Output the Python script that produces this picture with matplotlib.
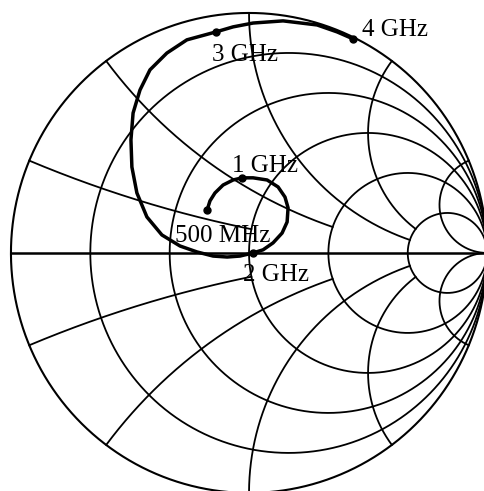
import numpy as np
import matplotlib
matplotlib.use('Agg')
import matplotlib.pyplot as plt

# measured reflection coefficient trace (real / imaginary part of gamma)
gamma_re = [-0.176, -0.164, -0.143, -0.109, -0.067, -0.029, 0.017, 0.076, 0.122, 0.151,
            0.164, 0.160, 0.139, 0.101, 0.059, 0.017, -0.038, -0.092, -0.151, -0.218,
            -0.290, -0.366, -0.429, -0.471, -0.492, -0.496, -0.487, -0.458, -0.416, -0.345,
            -0.261, -0.139, -0.067, 0.017, 0.143, 0.286, 0.370, 0.437]
gamma_im = [0.179, 0.217, 0.250, 0.283, 0.304, 0.313, 0.313, 0.304, 0.275, 0.233,
            0.188, 0.129, 0.083, 0.042, 0.013, 0.000, -0.013, -0.017, -0.013, 0.004,
            0.029, 0.075, 0.150, 0.250, 0.358, 0.471, 0.583, 0.679, 0.763, 0.833,
            0.888, 0.921, 0.942, 0.958, 0.967, 0.950, 0.921, 0.892]

# frequency markers on the trace
marker_labels = ['500 MHz', '1 GHz', '2 GHz', '3 GHz', '4 GHz']
marker_re = [-0.176, -0.029, 0.017, -0.139, 0.437]
marker_im = [0.179, 0.313, 0.000, 0.921, 0.892]
label_re = [-0.311, -0.071, -0.025, -0.155, 0.475]
label_im = [0.046, 0.338, -0.117, 0.800, 0.904]

# smith chart grid: resistance circles and reactance arcs
r_values = [0.2, 0.5, 1, 2, 5]
x_values = [0.2, 0.5, 1, 2, 5]
x_stop_r = [1, 2, 5, 5, 1e6]   # each reactance arc ends on this resistance circle


def to_gamma(z):
    return (z - 1) / (z + 1)


fig = plt.figure(figsize=(4.84, 4.91), dpi=100)
ax = fig.add_axes([0, 0, 1, 1])
ax.set_xlim(-1.046, 0.987)
ax.set_ylim(-0.992, 1.054)
ax.axis('off')

t = np.linspace(0, 2 * np.pi, 600)
ax.plot(np.cos(t), np.sin(t), color='black', lw=1.5)
ax.plot([-1, 1], [0, 0], color='black', lw=1.8)

# resistance circles
xs = np.tan(np.linspace(-np.pi / 2 + 1e-4, np.pi / 2 - 1e-4, 2000))
for r in r_values:
    g = to_gamma(r + 1j * xs)
    ax.plot(g.real, g.imag, color='black', lw=1.3)

# reactance arcs
for x, rs in zip(x_values, x_stop_r):
    rr = np.tan(np.linspace(0, np.arctan(rs), 1500))
    for sgn in (1, -1):
        g = to_gamma(rr + 1j * sgn * x)
        ax.plot(g.real, g.imag, color='black', lw=1.3)

# measured trace
ax.plot(gamma_re, gamma_im, color='black', lw=2.5, solid_capstyle='round',
        solid_joinstyle='round')
ax.plot(marker_re, marker_im, 'o', color='black', ms=5)

for lab, lx, ly in zip(marker_labels, label_re, label_im):
    ax.text(lx, ly, lab, fontsize=18, family='Liberation Serif',
            ha='left', va='baseline', color='black')

fig.savefig('out.png', dpi=100)
